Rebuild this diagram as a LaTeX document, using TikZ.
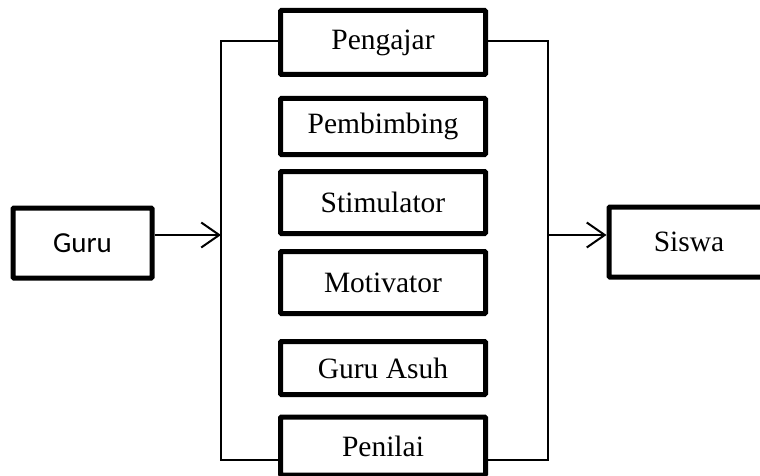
\documentclass[tikz,border=0pt]{standalone}
\usepackage{fontspec}
\setmainfont{Liberation Serif}
\newfontfamily\calibri{Carlito}
\usetikzlibrary{arrows.meta}

\tikzset{
  peran/.style={draw, line width=5pt, rounded corners=1pt, minimum width=205pt,
    font=\fontsize{29.5}{35}\selectfont, inner sep=0pt},
  pihak/.style={draw, line width=5pt, rounded corners=1pt, minimum width=139pt,
    minimum height=70pt, font=\fontsize{29.5}{35}\selectfont, inner sep=0pt},
  garis/.style={line width=2pt},
  panah/.style={line width=2pt, -{Straight Barb[length=18pt, width=25pt, line width=2pt]}}
}

\begin{document}
\begin{tikzpicture}[x=1pt,y=-1pt]
  \clip (0,0) rectangle (760,476);
  \fill[white] (0,0) rectangle (760,476);

  % pihak
  \node[pihak, font=\calibri\fontsize{29}{35}\selectfont] (guru) at (82.5,243) {Guru};
  \node[pihak, minimum width=160pt] (siswa) at (689,242) {Siswa};

  % peran guru
  \node[peran, minimum height=64pt] (peng) at (383,42.5) {Pengajar};
  \node[peran, minimum height=56pt] (bimb) at (383,126.5) {Pembimbing};
  \node[peran, minimum height=62pt] (stim) at (383,202.5) {Stimulator};
  \node[peran, minimum height=62pt] (motv) at (383,282.5) {Motivator};
  \node[peran, minimum height=53pt] (asuh) at (383,368) {Guru Asuh};
  \node[peran, minimum height=58pt] (pnl) at (383,446) {Penilai};

  % kurung kiri dan kanan
  \coordinate (kt) at (221,41);
  \coordinate (kb) at (221,460);
  \coordinate (lt) at (548,41);
  \coordinate (lb) at (548,460);
  \coordinate (kmid) at (221,235);
  \coordinate (lmid) at (548,235);

  \draw[garis] (peng.west |- kt) -- (kt) -- (kb) -- (kb -| pnl.west);
  \draw[garis] (peng.east |- lt) -- (lt) -- (lb) -- (lb -| pnl.east);

  % panah
  \draw[panah] (guru.east |- kmid) -- (kmid);
  \draw[panah] (lmid) -- (lmid -| siswa.west);
\end{tikzpicture}
\end{document}
